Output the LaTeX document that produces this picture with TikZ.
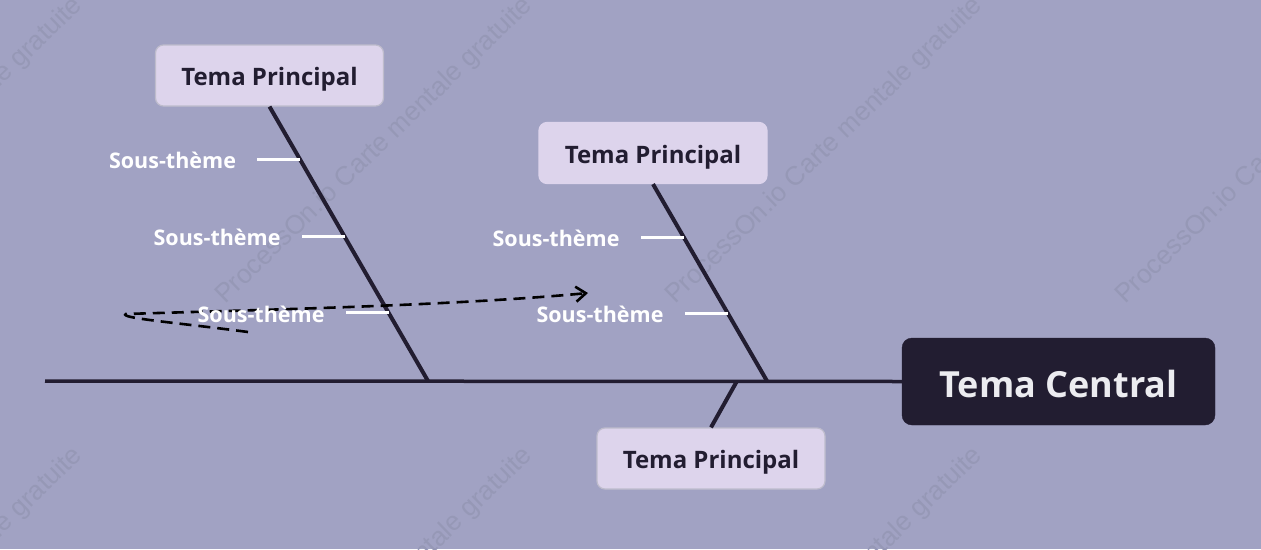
\documentclass[tikz,border=0pt]{standalone}
\usepackage{fontspec}
\setmainfont{Open Sans}
\newfontfamily\wmfont{Liberation Sans}
\usetikzlibrary{arrows.meta,calc}
\definecolor{bgc}{RGB}{161,162,195}
\definecolor{wmc}{RGB}{150,152,182}
\definecolor{darkc}{RGB}{34,29,49}
\definecolor{boxc}{RGB}{221,212,236}
\definecolor{boxedge}{RGB}{190,188,204}
\definecolor{centraltext}{RGB}{236,236,240}
\tikzset{
  wm/.style={font=\wmfont\fontsize{26.5}{26.5}\selectfont, text=wmc, anchor=base west, rotate=44, inner sep=0pt},
  mainbox/.style={rounded corners=8pt, fill=boxc, draw=boxedge, line width=1.2pt, text=darkc,
     font=\bfseries\fontsize{24}{24}\selectfont, minimum width=228pt, minimum height=61pt, inner sep=0pt,
     text height=20.4pt, text depth=0pt},
  centralbox/.style={rounded corners=10pt, fill=darkc, draw=darkc, text=centraltext,
     font=\bfseries\fontsize{36}{36}\selectfont, minimum width=313pt, minimum height=87pt, inner sep=0pt,
     text height=31.4pt, text depth=0pt},
  sublabel/.style={text=white, font=\bfseries\fontsize{21.5}{21.5}\selectfont, inner sep=0pt, anchor=east},
  spine/.style={draw=darkc, line width=3.5pt},
  bone/.style={draw=darkc, line width=4pt},
  subline/.style={draw=white, line width=3pt},
  dashline/.style={draw=black, line width=2.6pt, dash pattern=on 12pt off 7pt,
     -{Straight Barb[length=10pt,width=15pt,line width=2.6pt]}},
}
\begin{document}
\begin{tikzpicture}[x=1pt,y=-1pt]
\path[use as bounding box, fill=bgc] (0,0) rectangle (1261,549);
\clip (0,0) rectangle (1261,549);
% watermarks
\foreach \wx/\wy in {-225/305,225/305,675/305,1125/305,-225/755,225/755,675/755}{
  \node[wm] at (\wx,\wy) {ProcessOn.io Carte mentale gratuite};
}
% nodes
\node[centralbox] (central) at (1058.5,381.5) {Tema Central};
\node[mainbox] (p1) at (269.5,75.5) {Tema Principal};
\node[mainbox, draw=boxc] (p2) at (653,153) {Tema Principal};
\node[mainbox] (p3) at (711,458.5) {Tema Principal};
\coordinate (tail) at (45,381);
\coordinate (j1) at (428,381);
\coordinate (j2) at (767,381);
\coordinate (j3) at (737,381);
% spine and bones
\draw[spine] (tail) -- (central.west);
\draw[bone] (p1.south) -- (j1);
\draw[bone] (p2.south) -- (j2);
\draw[bone] (j3) -- (p3.north);
% points on bones
\coordinate (b11) at ($(p1.south)!{53/274}!(j1)$);
\coordinate (b12) at ($(p1.south)!{130/274}!(j1)$);
\coordinate (b13) at ($(p1.south)!{206/274}!(j1)$);
\coordinate (b21) at ($(p2.south)!{53/197}!(j2)$);
\coordinate (b22) at ($(p2.south)!{129/197}!(j2)$);
% dashed line
\coordinate (ds) at (248,332);
\coordinate (dm) at (126,314);
\coordinate (de) at (588,293);
\draw[dashline] (ds) .. controls (180,323) and (118,318) .. (dm)
   .. controls (250,310) and (450,306) .. (de);
% sub lines and labels
\foreach \b/\n in {b11/s11,b12/s12,b13/s13,b21/s21,b22/s22}{
  \draw[subline] (\b) -- ++(-43,0) coordinate (e\n);
  \node[sublabel] (\n) at ($(e\n)+(-21,1)$) {Sous-thème};
}
\end{tikzpicture}
\end{document}
